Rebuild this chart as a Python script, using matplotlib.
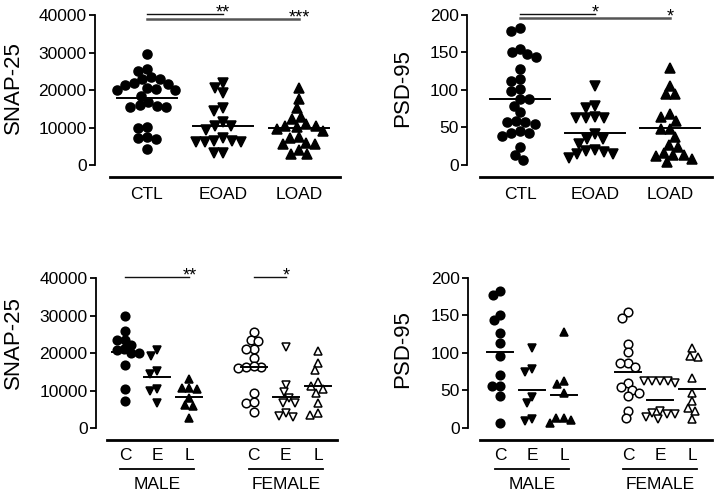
import numpy as np
import matplotlib
matplotlib.use('Agg')
import matplotlib.pyplot as plt

plt.rcParams['font.family'] = ['Liberation Sans', 'DejaVu Sans']

# ---------------- data ----------------
groups_top = ['CTL', 'EOAD', 'LOAD']
groups_sex = ['C', 'E', 'L', 'C', 'E', 'L']
sex_names = ['MALE', 'FEMALE']

snap_ctl = [29600, 25600, 25150, 23400, 22900, 22900, 21600, 22000, 21300, 20200, 20000, 20000, 20450,
            18500, 16900, 15800, 15600, 15600, 16000, 10200, 9800, 7100, 6900, 7500, 4200]
snap_eoad = [21800, 20450, 19100, 15100, 14400, 11550, 10400, 10400, 9300, 7300, 6400, 6200, 6200, 6200,
             6400, 3100, 3300]
snap_load = [20450, 17500, 15100, 12900, 12300, 10900, 10500, 10400, 9500, 9100, 10200, 7400, 7200, 5800,
             5500, 5600, 4000, 2900, 2900]
snap_means = [17800, 10400, 9800]

psd_ctl = [182, 178, 150, 155, 143.6, 147.6, 127.6, 112, 114, 99, 101, 87.6, 88, 78.7, 70, 59, 57, 57,
           54.7, 45, 42, 39, 43, 23.6, 13.3, 6.7]
psd_eoad = [105, 75.6, 78.7, 62, 62, 62, 63.6, 41, 34, 28, 34, 19, 14.7, 8.9, 14.7, 17.8, 20]
psd_load = [129, 105, 94, 94, 59, 68, 63.6, 47.6, 47.6, 26.7, 23.6, 36.9, 13.3, 12, 4.4, 7.6, 13.3, 16.4]
psd_means = [87.6, 43, 49]

snap_m_c = [29780, 25780, 23380, 23560, 22220, 21070, 20890, 20000, 20000, 16890, 10400, 7290]
snap_m_e = [20700, 19300, 15100, 14400, 10500, 9800, 6800]
snap_m_l = [13200, 10800, 10300, 10600, 8000, 6200, 6000, 2800]
snap_f_c = [25500, 23600, 23100, 21100, 21100, 18700, 16300, 16300, 16600, 15900, 9300, 6700, 6900, 4200]
snap_f_e = [21500, 11500, 9500, 8000, 6700, 6700, 4000, 3300, 3000]
snap_f_l = [20600, 17300, 15400, 12200, 11300, 10500, 9300, 6800, 3600, 4000]
snap_sex_means = [20200, 13600, 8400, 16300, 8300, 11100]

psd_m_c = [182, 177, 150, 143.6, 126, 113, 96, 70, 56, 56, 42, 6.7]
psd_m_e = [106, 75, 78, 41, 33, 9, 12]
psd_m_l = [128, 58, 62, 47, 13, 7, 13, 10]
psd_f_c = [154, 147, 112, 101, 86, 86, 81, 60, 55, 51, 42, 47, 23, 13]
psd_f_e = [63, 62, 63, 62, 60, 22, 20, 18, 18, 14, 12]
psd_f_l = [106, 96, 94, 67, 47, 36, 27, 23, 12]
psd_sex_means = [101, 50, 43.6, 74.7, 37.8, 52]

# significance: (group from, group to, label)
snap_sig = [(0, 1, '**'), (0, 2, '***')]
psd_sig = [(0, 1, '*'), (0, 2, '*')]
snap_sex_sig = [(0, 2, '**'), (3, 4, '*')]

W, H = 715, 494
fig = plt.figure(figsize=(W / 100, H / 100), dpi=100)


def make_ax(l, t, r, b, xlim, ylim):
    ax = fig.add_axes([l / W, 1 - b / H, (r - l) / W, (b - t) / H])
    ax.set_xlim(xlim)
    ax.set_ylim(ylim)
    ax.xppu = (r - l) / (xlim[1] - xlim[0])
    ax.yppu = (b - t) / (ylim[1] - ylim[0])
    return ax


def swarm(vals, yppu, d):
    # simple beeswarm, offsets in pixels
    y = np.asarray(vals, float) * yppu
    order = np.argsort(-y, kind='stable')
    xs = np.zeros(len(y))
    done = []
    for i in order:
        bad = []
        for j in done:
            dy = y[i] - y[j]
            if abs(dy) < d:
                w = np.sqrt(d * d - dy * dy)
                bad.append((xs[j] - w, xs[j] + w))
        cands = [0.0] + [e for iv in bad for e in iv]
        cands.sort(key=lambda c: (round(abs(c), 6), c))
        for c in cands:
            if all(not (lo + 1e-6 < c < hi - 1e-6) for lo, hi in bad):
                xs[i] = c
                break
        done.append(i)
    return xs


def style(ax, yticks, xstart, positions, labels, ypad):
    for s in ['top', 'right']:
        ax.spines[s].set_visible(False)
    ax.spines['left'].set_bounds(yticks[0], yticks[-1])
    ax.spines['left'].set_linewidth(1.3)
    ax.spines['bottom'].set_bounds(xstart, ax.get_xlim()[1])
    ax.spines['bottom'].set_linewidth(2)
    ax.set_yticks(yticks)
    ax.set_xticks(positions)
    ax.set_xticklabels(labels)
    ax.tick_params(axis='y', length=4, width=1.3, pad=2, labelsize=12.5)
    ax.tick_params(axis='x', length=0, pad=ypad, labelsize=12.5)


def draw_group(ax, pos, vals, marker, filled, ms, d, mean, hw):
    xs = swarm(vals, ax.yppu, d) / ax.xppu
    ax.plot(pos + xs, vals, ls='none', marker=marker, ms=ms,
            mfc='black' if filled else 'white', mec='black', mew=1.1, clip_on=False, zorder=3)
    ax.plot([pos - hw, pos + hw], [mean, mean], color='black', lw=1.4, zorder=4)


def draw_sig(ax, positions, sigs, ys, colors, lws, off=-2.5):
    for (a, b, lab), y, c, lw in zip(sigs, ys, colors, lws):
        ax.plot([positions[a], positions[b]], [y, y], color=c, lw=lw, clip_on=False)
        ax.annotate(lab, (positions[b], y), xytext=(0, off), textcoords='offset points',
                    ha='center', va='baseline', fontsize=13)


# ---------------- top-left: SNAP-25 ----------------
pos3 = [1, 2, 3]
ax1 = make_ax(95, 5, 340, 177, (0.316, 3.54), (-3200, 42700))
style(ax1, [0, 10000, 20000, 30000, 40000], 0.513, pos3, groups_top, 7)
for p, v, m, mn in zip(pos3, [snap_ctl, snap_eoad, snap_load], ['o', 'v', '^'], snap_means):
    draw_group(ax1, p, v, m, True, 6.5, 9.3, mn, 0.4)
draw_sig(ax1, pos3, snap_sig, [40267, 38933], ['#111111', '#555555'], [1.0, 1.8])
fig.text(13 / W, 1 - 88 / H, 'SNAP-25', rotation=90, ha='center', va='center', fontsize=16)

# ---------------- top-right: PSD-95 ----------------
ax2 = make_ax(467, 5, 712, 177, (0.293, 3.56), (-16, 213.3))
style(ax2, [0, 50, 100, 150, 200], 0.467, pos3, groups_top, 7)
for p, v, m, mn in zip(pos3, [psd_ctl, psd_eoad, psd_load], ['o', 'v', '^'], psd_means):
    draw_group(ax2, p, v, m, True, 6.5, 9.3, mn, 0.4)
draw_sig(ax2, pos3, psd_sig, [201.3, 196], ['#111111', '#555555'], [1.0, 1.8])
fig.text(403 / W, 1 - 88 / H, 'PSD-95', rotation=90, ha='center', va='center', fontsize=16)

# ---------------- bottom panels: by sex ----------------
pos6 = [1, 2, 3, 5, 6, 7]
markers6 = ['o', 'v', '^', 'o', 'v', '^']
filled6 = [True, True, True, False, False, False]


def sex_labels(ax, t, b):
    for k, name in enumerate(sex_names):
        x0, x1 = pos6[3 * k] - 0.15, pos6[3 * k + 2] + 0.15
        tr = ax.get_xaxis_transform()
        yl = (b - 469) / (b - t)
        ax.plot([x0, x1], [yl, yl], color='black', lw=1.3, transform=tr, clip_on=False)
        ax.text((x0 + x1) / 2, (b - 484) / (b - t), name, transform=tr,
                ha='center', va='center', fontsize=12.5)


ax3 = make_ax(96, 262, 337, 440, (0.0986, 7.59), (-3200, 44267))
style(ax3, [0, 10000, 20000, 30000, 40000], 0.44, pos6, groups_sex, 6)
for p, v, m, f, mn in zip(pos6, [snap_m_c, snap_m_e, snap_m_l, snap_f_c, snap_f_e, snap_f_l],
                          markers6, filled6, snap_sex_means):
    draw_group(ax3, p, v, m, f, 6.2, 7.8, mn, 0.4)
draw_sig(ax3, pos6, snap_sex_sig, [40267, 40267], ['#111111', '#111111'], [1.0, 1.0], off=-2.5)
sex_labels(ax3, 262, 440)
fig.text(13 / W, 1 - 343 / H, 'SNAP-25', rotation=90, ha='center', va='center', fontsize=16)

ax4 = make_ax(468, 262, 712, 440, (0.0, 7.625), (-16, 221.3))
style(ax4, [0, 50, 100, 150, 200], 0.375, pos6, groups_sex, 6)
for p, v, m, f, mn in zip(pos6, [psd_m_c, psd_m_e, psd_m_l, psd_f_c, psd_f_e, psd_f_l],
                          markers6, filled6, psd_sex_means):
    draw_group(ax4, p, v, m, f, 6.2, 7.8, mn, 0.4)
sex_labels(ax4, 262, 440)
fig.text(403 / W, 1 - 349 / H, 'PSD-95', rotation=90, ha='center', va='center', fontsize=16)

fig.savefig('out.png', dpi=100)
